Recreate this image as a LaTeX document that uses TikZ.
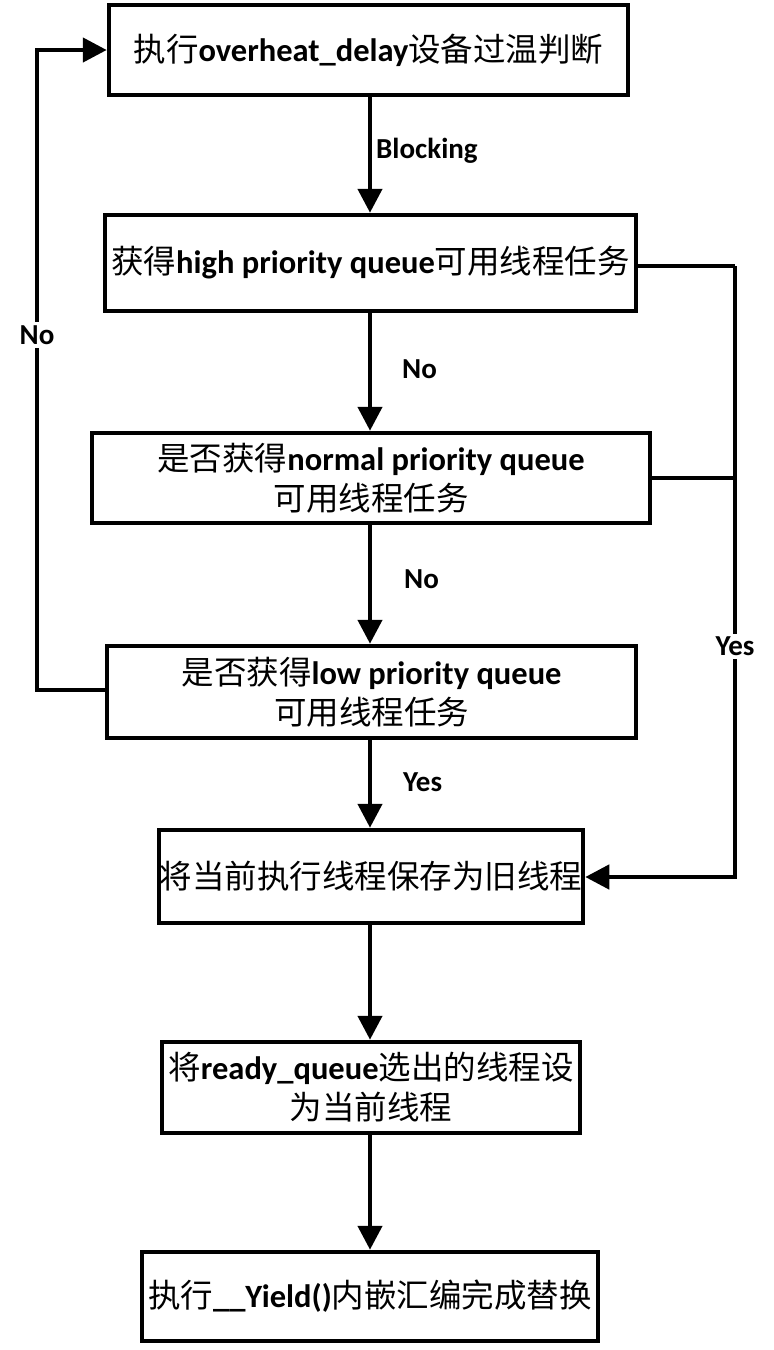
\documentclass[tikz,border=0pt]{standalone}
\usepackage{fontspec}
\setmainfont{Carlito}
\newfontfamily\cjkfont{Noto Sans CJK SC}
\usetikzlibrary{arrows.meta}
\newcommand\zh[1]{{\cjkfont\mdseries #1}}
\begin{document}
\begin{tikzpicture}[x=1pt,y=-1pt,
  box/.style={draw,line width=4.5pt,inner sep=0pt,align=center,
    font=\fontsize{32.5}{40}\selectfont\bfseries},
  conn/.style={line width=4.5pt},
  arr/.style={conn,-{Triangle[length=24pt,width=24pt]}},
  lbl/.style={font=\fontsize{29}{32}\selectfont\bfseries,inner sep=2pt},
  lblw/.style={lbl,fill=white,inner sep=3pt}]
\useasboundingbox[fill=white] (0,0) rectangle (774,1350);
\node[box,minimum width=519pt,minimum height=90pt] (b1) at (368.5,50)
  {\zh{执行}overheat\_delay\zh{设备过温判断}};
\node[box,minimum width=531pt,minimum height=96pt] (b2) at (370.5,263)
  {\zh{获得}high priority queue\zh{可用线程任务}};
\node[box,minimum width=558pt,minimum height=90pt] (b3) at (371,478)
  {\zh{是否获得}normal priority queue\\\zh{可用线程任务}};
\node[box,minimum width=529pt,minimum height=92pt] (b4) at (371.5,692)
  {\zh{是否获得}low priority queue\\\zh{可用线程任务}};
\node[box,minimum width=424pt,minimum height=93pt] (b5) at (371,876.5)
  {\zh{将当前执行线程保存为旧线程}};
\node[box,minimum width=418pt,minimum height=91pt] (b6) at (371,1087.5)
  {\zh{将}ready\_queue\zh{选出的线程设}\\\zh{为当前线程}};
\node[box,minimum width=456pt,minimum height=89pt] (b7) at (370,1296.5)
  {\zh{执行}\_\_Yield()\zh{内嵌汇编完成替换}};
% vertical arrows
\coordinate (x0) at (370,0);
\draw[arr] (x0 |- b1.south) -- (x0 |- b2.north);
\draw[arr] (x0 |- b2.south) -- (x0 |- b3.north);
\draw[arr] (x0 |- b3.south) -- (x0 |- b4.north);
\draw[arr] (x0 |- b4.south) -- (x0 |- b5.north);
\draw[arr] (x0 |- b5.south) -- (x0 |- b6.north);
\draw[arr] (x0 |- b6.south) -- (x0 |- b7.north);
\node[lbl,anchor=west] (lblk) at (374,151) {Blocking};
\node[lbl,anchor=west] (ln1) at (400,369) {No};
\node[lbl,anchor=west] (ln2) at (402,579) {No};
\node[lbl,anchor=west] (ly1) at (401,782) {Yes};
% right Yes path
\coordinate (r1) at (735,266);
\coordinate (r2) at (735,478);
\coordinate (r3) at (735,877);
\draw[conn] (b2.east |- r1) -- (r1);
\draw[conn] (b3.east) -- (r2);
\draw[arr] (r1) -- (r3) -- (b5.east |- r3);
\node[lblw] (ly2) at (735,646) {Yes};
% left No path
\coordinate (l1) at (37,690);
\coordinate (l2) at (37,50);
\draw[arr] (b4.west |- l1) -- (l1) -- (l2) -- (b1.west);
\node[lblw] (ln3) at (37,335) {No};
\end{tikzpicture}
\end{document}
